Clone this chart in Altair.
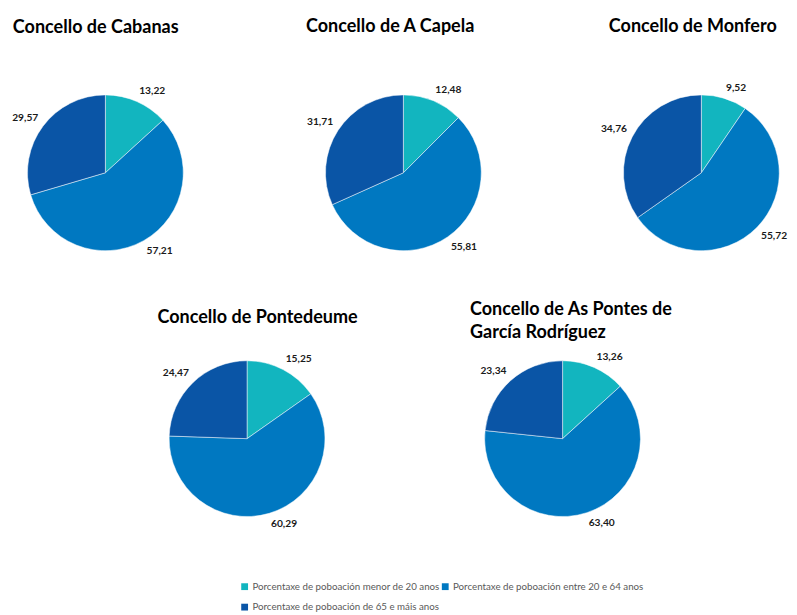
import math
import altair as alt
import pandas as pd

concellos = ["Cabanas", "A Capela", "Monfero", "Pontedeume", "As Pontes"]
titles = [
    "Concello de Cabanas",
    "Concello de A Capela",
    "Concello de Monfero",
    "Concello de Pontedeume",
    ["Concello de As Pontes de", " García Rodríguez"],
]
grupos = [
    "Porcentaxe de poboación menor de 20 anos",
    "Porcentaxe de poboación entre 20 e 64 anos",
    "Porcentaxe de poboación de 65 e máis anos",
]
menor20 = [13.22, 12.48, 9.52, 15.25, 13.26]
entre20_64 = [57.21, 55.81, 55.72, 60.29, 63.40]
maiores65 = [29.57, 31.71, 34.76, 24.47, 23.34]
colors = ["#12B5BF", "#0078C1", "#0A55A6"]

rows = []
for i, c in enumerate(concellos):
    vals = [menor20[i], entre20_64[i], maiores65[i]]
    total = sum(vals)
    acc = 0.0
    for k, (g, v) in enumerate(zip(grupos, vals)):
        mid = (acc + v / 2) / total * 2 * math.pi
        acc += v
        rows.append({
            "concello": c, "grupo": g, "orde": k, "valor": v,
            "etiqueta": f"{v:.2f}".replace(".", ","),
            # labels sit just outside the slice, on the side the slice faces
            "aliñar": "left" if math.sin(mid) >= 0 else "right",
            "base": "bottom" if math.cos(mid) >= 0 else "top",
        })
df = pd.DataFrame(rows)

FONT = "Lato"
H = 180
R = 80

# legend is filled column by column: order so rows read menor/entre, then 65
legend_domain = [grupos[0], grupos[2], grupos[1]]
legend_range = [colors[0], colors[2], colors[1]]
color_scale = alt.Scale(domain=legend_domain, range=legend_range)


def pie(i, offset, dx=0, width=180, show_legend=False):
    base = alt.Chart(df).transform_filter(alt.datum.concello == concellos[i]).encode(
        theta=alt.Theta("valor:Q", stack=True),
        order=alt.Order("orde:Q", sort="ascending"),
    )
    legend = None
    if show_legend:
        legend = alt.Legend(
            orient="none", legendX=228, legendY=510, columns=2, title=None,
            symbolType="square", symbolSize=49, labelFont=FONT, labelFontSize=10,
            labelColor="#595959", columnPadding=0, rowPadding=11, labelLimit=300,
            labelOffset=3, symbolStrokeWidth=0,
        )
    arcs = base.mark_arc(radius=R, stroke="white", strokeWidth=0.5).encode(
        color=alt.Color("grupo:N", scale=color_scale, legend=legend),
    )
    labels = base.mark_text(
        radius=R + 6, font=FONT, fontSize=10.5, fontWeight="bold", color="#1a1a1a",
        align=alt.expr("datum['aliñar']"), baseline=alt.expr("datum['base']"),
    ).encode(text="etiqueta:N")
    return alt.layer(arcs, labels).properties(
        width=width, height=H,
        title=alt.TitleParams(text=titles[i], anchor="start", frame="group",
                              offset=offset, dx=dx,
                              font=FONT, fontSize=18.5, fontWeight="bold",
                              color="#000000", lineHeight=23),
    )


top = alt.hconcat(pie(0, 50, -5, show_legend=True), pie(1, 51, -10), pie(2, 49, -5),
                  spacing=126, bounds="flush")
bottom = alt.hconcat(pie(3, 25, 24, width=232), pie(4, 10, -5),
                     spacing=118, bounds="flush")

chart = alt.vconcat(top, bottom, spacing=41, center=True).resolve_scale(
    color="shared"
).properties(
    padding={"left": 4, "top": 1, "right": 0, "bottom": 0}
).configure_view(stroke=None)

chart.save("out.html", embed_options={"renderer": "svg", "actions": False})
